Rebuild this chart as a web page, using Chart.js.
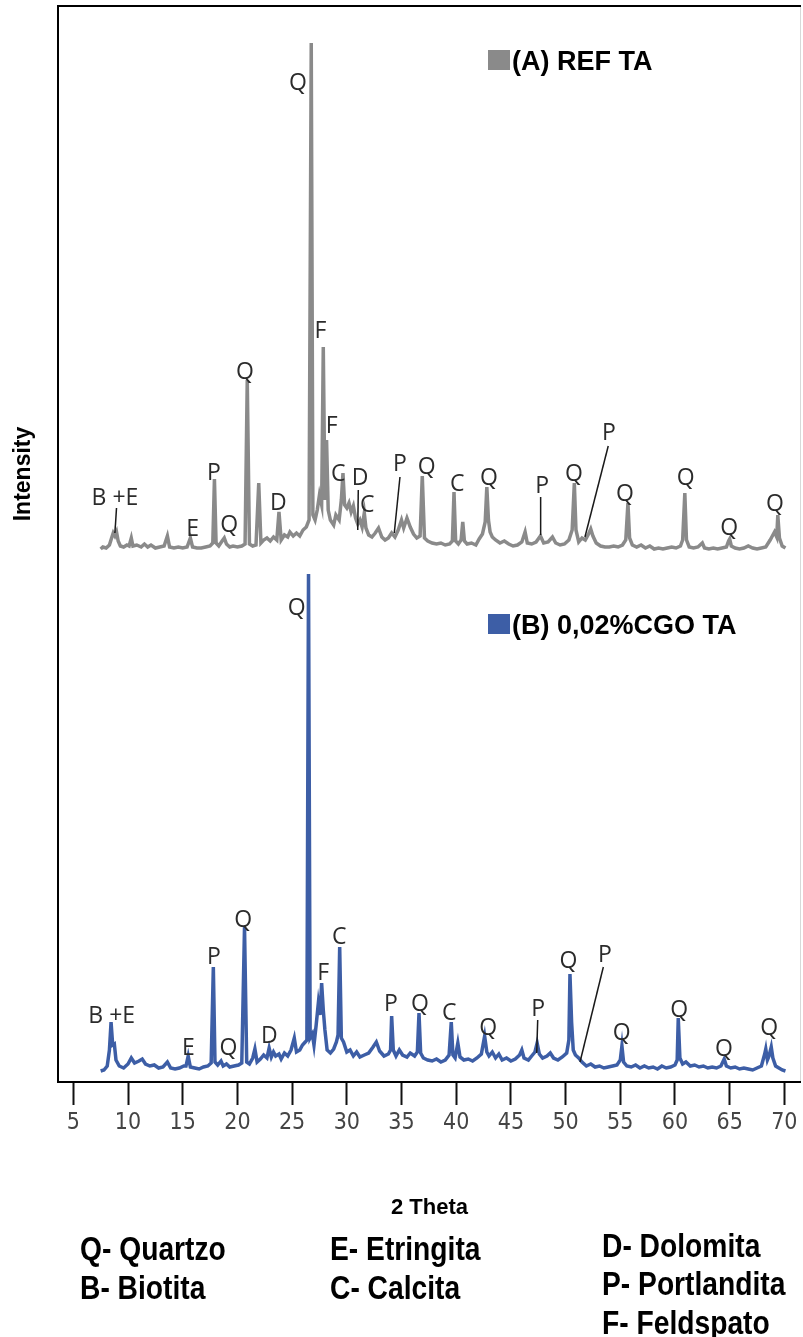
<!DOCTYPE html>
<html lang="pt">
<head>
<meta charset="utf-8">
<title>DRX - REF TA / 0,02%CGO TA</title>
<script src="https://cdn.jsdelivr.net/npm/chart.js@4.4.1/dist/chart.umd.min.js"></script>
<style>
  body { margin: 0; background: #fff; }
  #quadro { position: relative; width: 803px; height: 1337px; }
  #grafico { position: absolute; left: 0; top: 0; }
  .chave { position: absolute; font-family: "Liberation Sans", Arial, sans-serif;
           font-weight: bold; font-size: 34px; line-height: 34px; color: #000; white-space: nowrap;
           transform: scaleX(0.83); transform-origin: 0 0; }
</style>
</head>
<body>
<div id="quadro">
  <canvas id="grafico" width="803" height="1337"></canvas>
  <div class="chave" style="left:80px;top:1231px">Q- Quartzo</div>
  <div class="chave" style="left:80px;top:1270px">B- Biotita</div>
  <div class="chave" style="left:330px;top:1231px">E- Etringita</div>
  <div class="chave" style="left:330px;top:1270px">C- Calcita</div>
  <div class="chave" style="left:602px;top:1228px">D- Dolomita</div>
  <div class="chave" style="left:602px;top:1266px">P- Portlandita</div>
  <div class="chave" style="left:602px;top:1305px">F- Feldspato</div>
</div>
<script>
// eixo 2 theta
const ticks2Theta = [5, 10, 15, 20, 25, 30, 35, 40, 45, 50, 55, 60, 65, 70];

// deslocamento vertical do difratograma (A) para ficar acima do (B)
const offsetA = 5200;

// (A) REF TA  -> [2theta, contagens]
const scanA = [
  [7.5,130],[7.7,150],[8.0,140],[8.3,170],[8.5,240],[8.65,290],[8.8,260],[8.95,300],[9.1,210],[9.3,160],
  [9.6,150],[9.9,170],[10.1,160],[10.3,240],[10.45,160],[10.8,170],[11.2,150],[11.5,180],[11.8,150],[12.1,170],
  [12.5,140],[12.9,150],[13.3,160],[13.6,260],[13.8,150],[14.2,140],[14.6,150],[15.0,140],[15.4,150],[15.7,240],
  [15.9,150],[16.3,140],[16.7,140],[17.1,150],[17.5,160],[17.75,190],[17.9,830],[18.05,190],[18.3,160],[18.6,210],
  [18.8,240],[19.0,180],[19.3,150],[19.6,160],[20.0,150],[20.4,160],[20.7,180],[20.9,1820],[21.1,180],[21.4,160],
  [21.7,170],[21.95,790],[22.15,190],[22.4,220],[22.7,240],[23.0,210],[23.3,250],[23.6,220],[23.8,500],[24.0,220],
  [24.3,270],[24.6,250],[24.8,300],[25.1,260],[25.4,290],[25.7,260],[26.0,320],[26.3,350],[26.55,420],[26.75,5190],
  [26.9,470],[27.1,420],[27.3,520],[27.5,670],[27.7,570],[27.85,2150],[28.0,620],[28.15,1220],[28.3,520],[28.5,420],
  [28.8,370],[29.0,470],[29.3,420],[29.5,620],[29.65,890],[29.8,570],[30.0,540],[30.2,590],[30.4,500],[30.6,560],
  [30.8,440],[31.0,380],[31.2,420],[31.4,350],[31.6,490],[31.75,340],[32.0,270],[32.3,250],[32.6,290],[32.9,340],
  [33.2,250],[33.5,220],[33.8,240],[34.1,290],[34.4,250],[34.7,320],[35.0,420],[35.2,340],[35.5,440],[35.8,350],
  [36.1,280],[36.4,240],[36.7,260],[36.9,860],[37.1,240],[37.4,210],[37.8,190],[38.2,180],[38.6,190],[39.0,170],
  [39.4,180],[39.65,210],[39.8,700],[39.95,210],[40.2,180],[40.45,220],[40.6,400],[40.75,210],[41.0,180],[41.4,190],
  [41.8,170],[42.1,230],[42.4,280],[42.65,400],[42.8,750],[42.95,420],[43.1,300],[43.3,250],[43.6,220],[44.0,190],
  [44.4,210],[44.8,180],[45.2,160],[45.6,170],[46.0,200],[46.3,300],[46.5,190],[46.9,180],[47.3,200],[47.7,260],
  [48.0,190],[48.4,200],[48.8,250],[49.1,190],[49.5,170],[49.9,180],[50.3,220],[50.6,320],[50.8,790],[50.95,320],
  [51.2,200],[51.5,240],[51.8,220],[52.1,280],[52.3,330],[52.5,260],[52.8,190],[53.2,160],[53.6,150],[54.0,150],
  [54.4,160],[54.8,150],[55.2,170],[55.5,220],[55.7,590],[55.85,240],[56.1,170],[56.5,150],[56.9,170],[57.3,140],
  [57.7,160],[58.1,130],[58.5,140],[58.9,130],[59.3,140],[59.7,150],[60.1,140],[60.5,160],[60.7,220],[60.9,690],
  [61.05,220],[61.3,150],[61.7,140],[62.1,150],[62.5,190],[62.7,140],[63.1,130],[63.5,140],[63.9,130],[64.3,140],
  [64.7,150],[64.9,210],[65.0,230],[65.15,160],[65.5,140],[65.9,130],[66.3,140],[66.7,160],[67.1,140],[67.5,130],
  [67.9,140],[68.3,150],[68.7,220],[68.9,260],[69.1,300],[69.3,250],[69.4,470],[69.55,240],[69.8,160],[70.1,140]
];

// (B) 0,02%CGO TA -> [2theta, contagens]
const scanB = [
  [7.5,110],[7.8,120],[8.1,160],[8.3,320],[8.45,600],[8.6,370],[8.75,380],[8.9,220],[9.2,160],[9.6,140],
  [10.0,180],[10.3,240],[10.6,190],[11.0,210],[11.3,230],[11.6,180],[12.0,160],[12.4,170],[12.8,140],[13.2,150],
  [13.6,200],[13.9,140],[14.3,130],[14.7,140],[15.1,160],[15.3,160],[15.5,260],[15.7,150],[16.1,140],[16.5,130],
  [16.9,150],[17.3,160],[17.6,190],[17.8,1150],[17.95,200],[18.2,170],[18.5,210],[18.7,160],[19.0,180],[19.3,150],
  [19.7,160],[20.1,170],[20.4,190],[20.65,1550],[20.85,200],[21.1,180],[21.4,240],[21.6,330],[21.8,200],[22.1,230],
  [22.4,270],[22.7,240],[22.9,340],[23.1,250],[23.3,300],[23.5,260],[23.8,280],[24.0,230],[24.3,290],[24.6,260],
  [24.9,320],[25.2,440],[25.4,300],[25.7,320],[25.95,370],[26.2,400],[26.35,420],[26.5,5080],[26.65,440],[26.85,480],
  [27.0,370],[27.2,570],[27.4,790],[27.55,670],[27.7,990],[27.85,720],[28.0,520],[28.2,320],[28.5,290],[28.8,330],
  [29.05,400],[29.2,470],[29.35,1350],[29.5,440],[29.7,400],[30.0,300],[30.3,320],[30.6,260],[30.9,300],[31.2,250],
  [31.6,270],[32.0,290],[32.4,350],[32.7,400],[33.0,310],[33.4,260],[33.8,280],[34.0,320],[34.1,660],[34.25,320],
  [34.5,260],[34.8,320],[35.1,270],[35.5,250],[35.8,290],[36.2,260],[36.45,300],[36.6,690],[36.75,290],[37.0,240],
  [37.4,220],[37.8,210],[38.2,230],[38.6,200],[39.0,220],[39.35,270],[39.55,600],[39.7,270],[39.9,240],[40.15,390],
  [40.35,250],[40.7,220],[41.1,230],[41.5,210],[41.9,240],[42.3,280],[42.6,460],[42.8,300],[43.0,260],[43.3,300],
  [43.6,240],[43.9,280],[44.2,220],[44.6,240],[45.0,210],[45.4,230],[45.8,270],[46.0,320],[46.2,240],[46.6,220],
  [46.9,260],[47.2,300],[47.4,390],[47.6,280],[47.9,240],[48.3,260],[48.6,290],[48.9,240],[49.3,220],[49.7,250],
  [50.1,290],[50.3,420],[50.4,1080],[50.55,600],[50.7,320],[50.9,270],[51.2,240],[51.5,200],[51.9,160],[52.3,180],
  [52.7,150],[53.1,160],[53.5,140],[53.9,150],[54.3,160],[54.7,170],[55.0,220],[55.15,360],[55.3,200],[55.6,160],
  [56.0,150],[56.4,170],[56.8,140],[57.2,160],[57.6,140],[58.0,150],[58.4,130],[58.8,160],[59.2,140],[59.6,150],
  [60.0,170],[60.2,220],[60.3,640],[60.45,240],[60.7,180],[61.0,200],[61.4,160],[61.8,170],[62.2,150],[62.6,160],
  [63.0,140],[63.4,150],[63.8,140],[64.2,160],[64.5,230],[64.7,160],[65.1,140],[65.5,150],[65.9,130],[66.3,140],
  [66.7,130],[67.1,120],[67.5,140],[67.9,160],[68.2,280],[68.3,330],[68.45,220],[68.6,260],[68.8,350],[68.95,240],
  [69.2,160],[69.5,140],[69.8,120],[70.1,110]
];

// identificacao das fases: [texto, 2theta, contagens]
const fasesA = [
  ['B +E', 8.81, 650], ['E', 15.9, 340], ['P', 17.86, 900], ['Q', 19.26, 380], ['Q', 20.69, 1910],
  ['D', 23.74, 600], ['Q', 25.54, 4800], ['F', 27.6, 2320], ['F', 28.62, 1370], ['C', 29.22, 890],
  ['D', 31.21, 850], ['C', 31.87, 580], ['P', 34.86, 990], ['Q', 37.3, 960], ['C', 40.1, 790],
  ['Q', 43.0, 850], ['P', 47.87, 770], ['Q', 50.77, 890], ['P', 53.97, 1300], ['Q', 55.43, 690],
  ['Q', 60.98, 850], ['Q', 64.96, 350], ['Q', 69.14, 590]
];
const fasesB = [
  ['B +E', 8.51, 670], ['E', 15.51, 350], ['P', 17.86, 1260], ['Q', 19.17, 350], ['Q', 20.54, 1630],
  ['D', 22.92, 470], ['Q', 25.42, 4750], ['F', 27.85, 1100], ['C', 29.31, 1460], ['P', 34.04, 790],
  ['Q', 36.69, 790], ['C', 39.37, 700], ['Q', 42.93, 550], ['P', 47.5, 740], ['Q', 50.25, 1220],
  ['P', 53.6, 1280], ['Q', 55.13, 500], ['Q', 60.39, 730], ['Q', 64.48, 340], ['Q', 68.62, 550]
];

// linhas de chamada: [2theta1, contagens1, 2theta2, contagens2]
const chamadasA = [
  [8.95, 540, 8.8, 290], [31.05, 720, 31.0, 320], [34.86, 850, 34.34, 290],
  [47.72, 650, 47.72, 270], [53.9, 1160, 51.77, 250]
];
const chamadasB = [
  [47.45, 620, 47.36, 290], [53.45, 1150, 51.32, 200]
];

const corA = "#8a8a8a";
const corB = "#3d5ea6";

const extras = {
  id: "extras",
  afterDatasetsDraw(chart) {
    const { ctx, chartArea: a, scales: { x, y } } = chart;
    ctx.save();

    // moldura
    ctx.strokeStyle = "#d8d8d8";
    ctx.lineWidth = 1;
    ctx.beginPath(); ctx.moveTo(a.right - 0.5, a.top); ctx.lineTo(a.right - 0.5, a.bottom); ctx.stroke();
    ctx.strokeStyle = "#000";
    ctx.lineWidth = 2;
    ctx.beginPath();
    ctx.moveTo(a.right, a.top); ctx.lineTo(a.left, a.top); ctx.lineTo(a.left, a.bottom); ctx.lineTo(a.right, a.bottom);
    ctx.stroke();

    // chamadas
    ctx.strokeStyle = "#1a1a1a";
    ctx.lineWidth = 1.5;
    const chamar = (lista, off) => lista.forEach(([t1, c1, t2, c2]) => {
      ctx.beginPath();
      ctx.moveTo(x.getPixelForValue(t1), y.getPixelForValue(c1 + off));
      ctx.lineTo(x.getPixelForValue(t2), y.getPixelForValue(c2 + off));
      ctx.stroke();
    });
    chamar(chamadasA, offsetA);
    chamar(chamadasB, 0);

    // letras das fases
    ctx.fillStyle = "#2b2b2b";
    ctx.font = '23px "Open Sans", sans-serif';
    ctx.textAlign = "center";
    ctx.textBaseline = "alphabetic";
    const rotular = (lista, off) => lista.forEach(([txt, t, c]) => {
      ctx.fillText(txt, x.getPixelForValue(t), y.getPixelForValue(c + off) + 8);
    });
    rotular(fasesA, offsetA);
    rotular(fasesB, 0);

    // legendas das amostras
    ctx.textAlign = "left";
    ctx.font = 'bold 27px "Liberation Sans", Arial, sans-serif';
    ctx.fillStyle = corA;
    ctx.fillRect(488, 50, 22, 20);
    ctx.fillStyle = "#000";
    ctx.fillText("(A) REF TA", 512, 70);
    ctx.fillStyle = corB;
    ctx.fillRect(488, 614, 22, 20);
    ctx.fillStyle = "#000";
    ctx.fillText("(B) 0,02%CGO TA", 512, 634);

    // titulo do eixo y
    ctx.translate(24, 474);
    ctx.rotate(-Math.PI / 2);
    ctx.textAlign = "center";
    ctx.textBaseline = "middle";
    ctx.font = 'bold 23px "Liberation Sans", Arial, sans-serif';
    ctx.fillText("Intensity", 0, 0);
    ctx.restore();
  }
};

new Chart(document.getElementById("grafico"), {
  type: "line",
  data: {
    datasets: [
      {
        label: "(A) REF TA",
        data: scanA.map(([t, c]) => ({ x: t, y: c + offsetA })),
        borderColor: corA,
        borderWidth: 3.5,
        pointRadius: 0,
        tension: 0
      },
      {
        label: "(B) 0,02%CGO TA",
        data: scanB.map(([t, c]) => ({ x: t, y: c })),
        borderColor: corB,
        borderWidth: 3.5,
        pointRadius: 0,
        tension: 0
      }
    ]
  },
  options: {
    responsive: false,
    animation: false,
    devicePixelRatio: 1,
    layout: { padding: { left: 58, top: 6, right: 2, bottom: 0 } },
    plugins: {
      legend: { display: false },
      tooltip: { enabled: false }
    },
    scales: {
      x: {
        type: "linear",
        min: 3.6,
        max: 71.52,
        afterBuildTicks: (s) => { s.ticks = ticks2Theta.map(v => ({ value: v })); },
        afterFit: (s) => { s.height = 255; },
        border: { display: false },
        grid: { drawOnChartArea: false, drawTicks: true, tickLength: 23, tickWidth: 2, tickColor: "#111" },
        ticks: {
          autoSkip: false,
          maxRotation: 0,
          padding: 4,
          color: "#444",
          font: { family: '"DejaVu Sans Condensed", Roboto, sans-serif', size: 23 }
        },
        title: {
          display: true,
          text: "2 Theta",
          color: "#000",
          font: { family: '"Liberation Sans", Arial, sans-serif', size: 22, weight: "bold" },
          padding: { top: 0, bottom: 116 }
        }
      },
      y: { display: false, min: 0, max: 10760 }
    }
  },
  plugins: [extras]
});
</script>
</body>
</html>
